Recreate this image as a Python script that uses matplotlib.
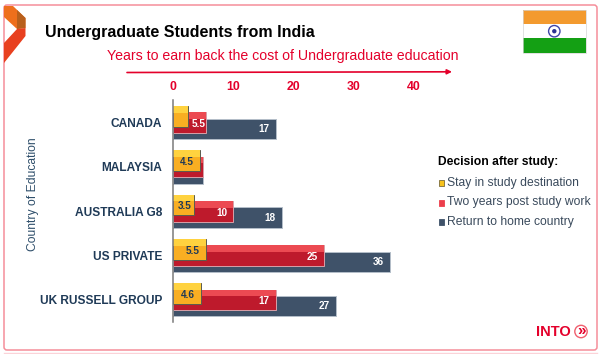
import matplotlib
matplotlib.use("Agg")
import numpy as np
import matplotlib.pyplot as plt
from matplotlib.patches import Rectangle, Polygon, Circle, FancyBboxPatch

plt.rcParams['font.family'] = ['Liberation Sans', 'DejaVu Sans']

countries = ["CANADA", "MALAYSIA", "AUSTRALIA G8", "US PRIVATE", "UK RUSSELL GROUP"]
stay = [2.5, 4.5, 3.5, 5.5, 4.6]
post_study = [5.5, 5, 10, 25, 17]
go_home = [17, 5, 18, 36, 27]
# some values are not printed on the chart
stay_labels = ["", "4.5", "3.5", "5.5", "4.6"]
post_study_labels = ["5.5", "", "10", "25", "17"]
go_home_labels = ["17", "", "18", "36", "27"]
ticks = [0, 10, 20, 30, 40]
legend_names = ["Stay in study destination", "Two years post study work", "Return to home country"]

NAVY = "#3F5269"
INK = "#1F3A57"
RED = "#E4002B"

W, H = 602, 354
fig = plt.figure(figsize=(W / 100, H / 100), dpi=100)

# page furniture is drawn in pixel coordinates
bg = fig.add_axes([0, 0, 1, 1])
bg.set_xlim(0, W)
bg.set_ylim(H, 0)
bg.axis("off")

bg.add_patch(FancyBboxPatch((4, 5), 593, 345, boxstyle="round,pad=0,rounding_size=3",
                            fc="white", ec="#F58E9A", lw=1.1))
bg.plot([4, 597], [353.3, 353.3], color="#FBD3D8", lw=1)

# logo
bg.add_patch(Polygon([(4, 6), (13, 6), (25.5, 18), (25.5, 28), (17, 29), (4, 17)], fc="#EE6F1C", ec="none"))
bg.add_patch(Polygon([(17, 10), (25.5, 18), (25.5, 28), (17, 29)], fc="#B8601C", ec="none"))
bg.add_patch(Polygon([(17, 29), (25.5, 28), (25.5, 36), (4, 63), (4, 43)], fc="#E8401F", ec="none"))

# flag
bg.add_patch(Rectangle((522.5, 10), 63.5, 14.2, fc="#F39A2E", ec="none"))
bg.add_patch(Rectangle((522.5, 24.2), 63.5, 14.2, fc="white", ec="none"))
bg.add_patch(Rectangle((522.5, 38.4), 63.5, 14.2, fc="#14A014", ec="none"))
bg.add_patch(Rectangle((522.5, 10), 63.5, 42.6, fc="none", ec="#D5D5D5", lw=0.5))
bg.add_patch(Circle((554.3, 31.2), 5.7, fc="white", ec="#3F46A8", lw=1))
bg.add_patch(Circle((554.3, 31.2), 2.2, fc="#2C3391", ec="none"))

bg.text(45, 32, "Undergraduate Students from India", fontsize=11.55, fontweight="bold",
        color="black", va="center", ha="left")
bg.text(107, 56, "Years to earn back the cost of Undergraduate education", fontsize=10.15,
        color=RED, va="center", ha="left")
bg.annotate("", xy=(452, 71.8), xytext=(127, 72.5),
            arrowprops=dict(arrowstyle="-|>", color=RED, lw=1.2, mutation_scale=7, shrinkA=0, shrinkB=0))
bg.text(33, 194, "Country of Education", fontsize=8.7, color="#2F4F6B", rotation=90,
        va="center", ha="center")

# legend
bg.text(438, 162, "Decision after study:", fontsize=8.7, fontweight="bold", color="black",
        va="center", ha="left")
for name, y, fc, ec in zip(legend_names, [183, 202.5, 222],
                           ["#F7C21C", "#EC3F4C", NAVY], ["#7A6A3A", "#EC3F4C", NAVY]):
    bg.add_patch(Rectangle((438.5, y - 3), 5.5, 6, fc=fc, ec=ec, lw=0.6))
    bg.text(447, y, name, fontsize=8.75, color="#3A4A5C", va="center", ha="left")

# INTO logo
bg.text(536, 331.5, "INTO", fontsize=10.5, fontweight="bold", color=RED, va="center", ha="left")
bg.add_patch(Circle((581, 331.5), 6.2, fc="white", ec="#F0606F", lw=1))
bg.text(581, 331, "»", fontsize=11, fontweight="bold", color=RED, va="center", ha="center")

# chart, axis spans x=173..450 px, y=100.5..322 px
ax = fig.add_axes([173 / W, 1 - 322 / H, 277 / W, 221.5 / H])
ax.patch.set_alpha(0)
ax.set_xlim(0, 277 / 6.03)
ax.set_ylim(4.5, -0.5)

pos = np.arange(len(countries))
bar_h = 0.465
step = 0.142


def draw_bars(values, offset, base, light, edge):
    y = pos + offset
    ax.barh(y, values, height=bar_h, color=base, edgecolor=edge, linewidth=0.7)
    # lighter band along the top of each bar
    if light:
        ax.barh(y - bar_h * 0.34, values, height=bar_h * 0.32, color=light, linewidth=0)


draw_bars(go_home, step, NAVY, None, "#B4BEC9")
draw_bars(post_study, 0, "#BE1A2C", "#EC4A52", "#D8A0A8")
draw_bars(stay, -step, "#F9AE22", "#FFD23F", "#5B5B4E")

for i in pos:
    if go_home_labels[i]:
        ax.text(go_home[i] - 1, i + step, go_home_labels[i], color="white", fontsize=7.2,
                fontweight="bold", ha="right", va="center")
    if post_study_labels[i]:
        # narrow visible stretch: centre the label in it
        if post_study[i] - stay[i] < 4:
            ax.text((post_study[i] + stay[i]) / 2 + 0.2, i + 0.03, post_study_labels[i], color="white",
                    fontsize=7.2, fontweight="bold", ha="center", va="center")
        else:
            ax.text(post_study[i] - 1, i + 0.03, post_study_labels[i], color="white", fontsize=7.2,
                    fontweight="bold", ha="right", va="center")
    if stay_labels[i]:
        gap = 1 if stay[i] > 4 else 0.4
        ax.text(stay[i] - gap, i - step + 0.03, stay_labels[i], color=INK, fontsize=7.2,
                fontweight="bold", ha="right", va="center")

ax.xaxis.tick_top()
ax.set_xticks(ticks)
ax.set_xticklabels(ticks, color=RED, fontsize=8.8, fontweight="bold")
ax.set_yticks(pos)
ax.set_yticklabels(countries, color=INK, fontsize=8.6, fontweight="bold")
ax.tick_params(axis="x", length=0, pad=5.5)
ax.tick_params(axis="y", length=0, pad=8)
for s in ["top", "right", "bottom"]:
    ax.spines[s].set_visible(False)
ax.spines["left"].set_color("#7A7A7A")
ax.spines["left"].set_linewidth(1.1)

fig.savefig("out.png", dpi=100)
